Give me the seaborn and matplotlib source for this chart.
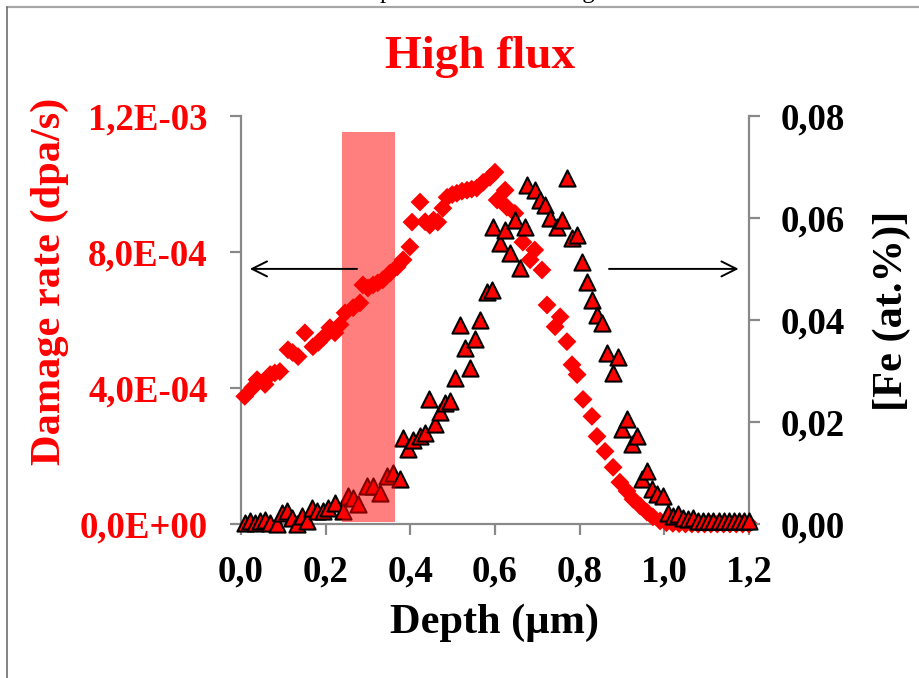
import matplotlib
matplotlib.use("Agg")
import matplotlib.pyplot as plt
from matplotlib.lines import Line2D
import pandas as pd
import seaborn as sns

# Damage rate profile (left axis, dpa/s)
depth_dmg = [0.009, 0.028, 0.038, 0.057, 0.069, 0.080, 0.092, 0.111, 0.122, 0.135,
             0.151, 0.170, 0.183, 0.194, 0.210, 0.222, 0.234, 0.246, 0.265, 0.281,
             0.288, 0.300, 0.312, 0.323, 0.335, 0.352, 0.369, 0.383, 0.399, 0.404,
             0.423, 0.435, 0.446, 0.455, 0.465, 0.477, 0.487, 0.499, 0.510, 0.522,
             0.534, 0.545, 0.557, 0.572, 0.588, 0.600, 0.605, 0.624, 0.628, 0.647,
             0.666, 0.683, 0.694, 0.711, 0.723, 0.742, 0.754, 0.770, 0.782, 0.794,
             0.808, 0.829, 0.841, 0.860, 0.879, 0.895, 0.912, 0.926, 0.943, 0.959,
             0.973, 0.990, 1.005, 1.020, 1.035, 1.050, 1.065, 1.080, 1.095, 1.110,
             1.125, 1.140, 1.155, 1.170, 1.185, 1.200]
damage_rate = [3.76e-4, 4.02e-4, 4.25e-4, 4.11e-4, 4.40e-4, 4.45e-4, 4.49e-4, 5.13e-4, 5.05e-4, 4.93e-4,
               5.63e-4, 5.22e-4, 5.35e-4, 5.49e-4, 5.78e-4, 5.63e-4, 5.87e-4, 6.22e-4, 6.37e-4, 6.51e-4,
               7.04e-4, 6.95e-4, 7.04e-4, 7.10e-4, 7.19e-4, 7.39e-4, 7.57e-4, 7.78e-4, 8.16e-4, 8.89e-4,
               9.48e-4, 8.90e-4, 8.80e-4, 8.95e-4, 8.89e-4, 9.30e-4, 9.62e-4, 9.70e-4, 9.74e-4, 9.80e-4,
               9.83e-4, 9.86e-4, 9.89e-4, 1.006e-3, 1.021e-3, 1.036e-3, 9.54e-4, 9.83e-4, 9.33e-4, 9.15e-4,
               8.30e-4, 7.78e-4, 8.07e-4, 7.48e-4, 6.45e-4, 5.81e-4, 6.10e-4, 5.37e-4, 4.69e-4, 4.40e-4,
               3.67e-4, 3.17e-4, 2.58e-4, 2.14e-4, 1.67e-4, 1.23e-4, 9.7e-5, 7.3e-5, 5.3e-5, 3.5e-5,
               2.1e-5, 9e-6, 4e-6, 2e-6, 1e-6, 0.0, 0.0, 0.0, 0.0, 0.0,
               0.0, 0.0, 0.0, 0.0, 0.0, 0.0]

# Fe concentration profile (right axis, at.%)
depth_fe = [0.009, 0.021, 0.033, 0.045, 0.057, 0.069, 0.085, 0.097, 0.109, 0.120,
            0.132, 0.144, 0.156, 0.168, 0.180, 0.194, 0.206, 0.222, 0.241, 0.253,
            0.265, 0.276, 0.298, 0.312, 0.328, 0.345, 0.359, 0.376, 0.383, 0.394,
            0.406, 0.423, 0.435, 0.444, 0.458, 0.470, 0.482, 0.494, 0.506, 0.517,
            0.529, 0.541, 0.553, 0.565, 0.581, 0.593, 0.595, 0.612, 0.624, 0.635,
            0.647, 0.659, 0.671, 0.676, 0.694, 0.706, 0.718, 0.730, 0.746, 0.758,
            0.770, 0.782, 0.794, 0.805, 0.817, 0.829, 0.841, 0.853, 0.865, 0.879,
            0.891, 0.900, 0.912, 0.924, 0.935, 0.947, 0.959, 0.971, 0.983, 0.997,
            1.009, 1.020, 1.032, 1.044, 1.056, 1.068, 1.080, 1.092, 1.104, 1.116,
            1.128, 1.140, 1.152, 1.164, 1.176, 1.188, 1.200]
fe_conc = [0.0002, 0.0006, 0.0002, 0.0006, 0.0008, 0.0002, 0.0000, 0.0022, 0.0026, 0.0012,
           0.0000, 0.0016, 0.0006, 0.0032, 0.0026, 0.0026, 0.0032, 0.0041, 0.0026, 0.0055,
           0.0051, 0.0039, 0.0075, 0.0075, 0.0061, 0.0095, 0.0100, 0.0089, 0.0169, 0.0148,
           0.0164, 0.0173, 0.0179, 0.0246, 0.0197, 0.0219, 0.0238, 0.0242, 0.0286, 0.0390,
           0.0345, 0.0307, 0.0364, 0.0400, 0.0455, 0.0459, 0.0583, 0.0552, 0.0577, 0.0532,
           0.0597, 0.0502, 0.0583, 0.0666, 0.0656, 0.0636, 0.0626, 0.0601, 0.0583, 0.0597,
           0.0680, 0.0561, 0.0567, 0.0514, 0.0475, 0.0439, 0.0410, 0.0394, 0.0335, 0.0297,
           0.0327, 0.0187, 0.0207, 0.0158, 0.0173, 0.0089, 0.0104, 0.0069, 0.0059, 0.0055,
           0.0022, 0.0016, 0.0020, 0.0012, 0.0010, 0.0012, 0.0005, 0.0005, 0.0005, 0.0005,
           0.0005, 0.0005, 0.0005, 0.0005, 0.0005, 0.0005, 0.0005]

x_ticks = [0.0, 0.2, 0.4, 0.6, 0.8, 1.0, 1.2]
x_labels = ["0,0", "0,2", "0,4", "0,6", "0,8", "1,0", "1,2"]
left_ticks = [0.0, 4.0e-4, 8.0e-4, 1.2e-3]
left_labels = ["0,0E+00", "4,0E-04", "8,0E-04", "1,2E-03"]
right_ticks = [0.00, 0.02, 0.04, 0.06, 0.08]
right_labels = ["0,00", "0,02", "0,04", "0,06", "0,08"]

# Irradiated zone analysed (depth interval)
zone_start, zone_end = 0.238, 0.365

sns.set_theme(style="white")
plt.rcParams["font.family"] = ["Liberation Serif", "DejaVu Serif"]
plt.rcParams["font.weight"] = "bold"

RED = "#ff0000"
GREY = "#898989"

fig = plt.figure(figsize=(9.19, 6.78), dpi=100)
ax = fig.add_axes([0.2622, 0.2271, 0.5528, 0.6011])
ax2 = ax.twinx()

dmg = pd.DataFrame({"depth": depth_dmg, "rate": damage_rate})
fe = pd.DataFrame({"depth": depth_fe, "fe": fe_conc})

sns.scatterplot(data=dmg, x="depth", y="rate", ax=ax, marker="D", s=92,
                color=RED, edgecolor="none", linewidth=0, clip_on=False, zorder=3)
sns.scatterplot(data=fe, x="depth", y="fe", ax=ax2, marker="^", s=135,
                color=RED, edgecolor="black", linewidth=1.5, clip_on=False, zorder=3)

ax.set_xlim(0, 1.2)
ax.set_ylim(0, 1.2e-3)
ax2.set_ylim(0, 0.08)

# translucent band over the analysed depth interval
ax2.axvspan(zone_start, zone_end, ymin=0.005, ymax=0.963, color=RED, alpha=0.5,
            lw=0, zorder=5)

for a in (ax, ax2):
    for side in a.spines:
        a.spines[side].set_visible(False)
ax.spines["left"].set_visible(True)
ax.spines["bottom"].set_visible(True)
ax2.spines["right"].set_visible(True)
for sp in (ax.spines["left"], ax.spines["bottom"], ax2.spines["right"]):
    sp.set_color(GREY)
    sp.set_linewidth(1.6)

tick_font = 26.5
ax.set_xticks(x_ticks, x_labels)
ax.set_yticks(left_ticks, left_labels)
ax2.set_yticks(right_ticks, right_labels)
ax.tick_params(axis="x", direction="out", length=8, width=1.6, color=GREY,
               pad=14, labelsize=tick_font, labelcolor="black", bottom=True)
ax.tick_params(axis="y", direction="out", length=8, width=1.6, color=GREY,
               pad=16, labelsize=tick_font, labelcolor=RED, left=True)
ax2.tick_params(axis="y", direction="out", length=8, width=1.6, color=GREY,
                pad=15, labelsize=tick_font, labelcolor="black", right=True)
for lab in ax.get_xticklabels() + ax.get_yticklabels() + ax2.get_yticklabels():
    lab.set_fontweight("bold")

ax.set_xlabel("Depth (µm)", fontsize=30.5, fontweight="bold", color="black")
ax.xaxis.set_label_coords(0.5, -0.243)
ax.xaxis.label.set_va("center")
ax.set_ylabel("Damage rate (dpa/s)", fontsize=30.5, fontweight="bold", color=RED)
ax.yaxis.set_label_coords(-0.376, 0.596)
ax.yaxis.label.set_va("center")
ax2.set_ylabel("[Fe (at.%)]", fontsize=30.5, fontweight="bold", color="black")
ax2.yaxis.set_label_coords(1.2815, 0.523)
ax2.yaxis.label.set_va("center")
ax2.yaxis.label.set_rotation(90)

ax.set_title("High flux", fontsize=34, fontweight="bold", color=RED,
             x=0.47, y=1.126, va="center")

# arrows pointing each series to its axis
arrow = dict(arrowstyle="->,head_length=0.9,head_width=0.45", color="black", lw=1.4)
ax2.annotate("", xy=(0.012, 0.626), xytext=(0.234, 0.626),
             xycoords="axes fraction", textcoords="axes fraction", arrowprops=arrow, zorder=6)
ax2.annotate("", xy=(0.985, 0.626), xytext=(0.719, 0.626),
             xycoords="axes fraction", textcoords="axes fraction", arrowprops=arrow, zorder=6)

# surrounding frame and heading line above it
fig.add_artist(Line2D([0.0071, 1.0], [0.989, 0.989], transform=fig.transFigure,
                      color="#a6a6a6", lw=1.6))
fig.add_artist(Line2D([0.0071, 0.0071], [0.0, 0.989], transform=fig.transFigure,
                      color="#6e6e6e", lw=1.2))
fig.text(322 / 919, 1 + 2 / 678, "Fe implantation and damage", fontsize=18,
         fontweight="normal", color="black", ha="left", va="baseline")

fig.savefig("out.png", dpi=100)
